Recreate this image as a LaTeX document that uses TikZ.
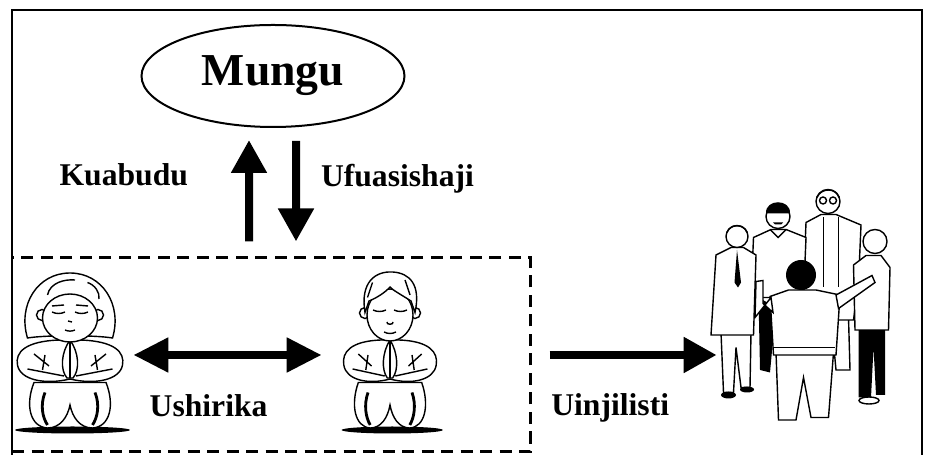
\documentclass[tikz,border=0pt]{standalone}
\usepackage{fontspec}
\setmainfont{Liberation Serif}
\usetikzlibrary{arrows.meta,shapes.geometric}

\tikzset{
  lebo/.style={font=\bfseries\fontsize{18}{21}\selectfont, inner sep=0pt},
  mshale/.style={line width=0.16cm, -{Triangle[length=0.66cm, width=0.68cm]}},
  mshalewili/.style={line width=0.16cm, {Triangle[length=0.7cm, width=0.66cm]}-{Triangle[length=0.7cm, width=0.66cm]}},
  mpaka/.style={draw, line width=0.06cm, dash pattern=on 0.24cm off 0.15cm},
  mtu/.style={draw, fill=white, line width=0.8pt},
  mwili/.pic={
    % kivuli
    \fill (0.05,-1.5) ellipse [x radius=1.15, y radius=0.07];
    % magoti
    \draw[mtu] (-0.72,-0.55) .. controls (-0.9,-1.0) and (-0.8,-1.44) .. (-0.45,-1.46) .. controls (-0.2,-1.46) and (-0.05,-1.25) .. (0,-1.0) .. controls (0.05,-1.25) and (0.2,-1.46) .. (0.45,-1.46) .. controls (0.8,-1.44) and (0.9,-1.0) .. (0.72,-0.55) -- cycle;
    \draw[line width=1.6pt] (-0.5,-0.75) .. controls (-0.6,-1.0) and (-0.55,-1.25) .. (-0.45,-1.4);
    \draw[line width=1.6pt] (0.5,-0.75) .. controls (0.6,-1.0) and (0.55,-1.25) .. (0.45,-1.4);
    % mikono
    \draw[mtu] (-0.2,0.3) .. controls (-0.9,0.28) and (-1.1,0.05) .. (-1.05,-0.2) .. controls (-1.0,-0.5) and (-0.5,-0.6) .. (0,-0.48) .. controls (0.5,-0.6) and (1.0,-0.5) .. (1.05,-0.2) .. controls (1.1,0.05) and (0.9,0.28) .. (0.2,0.3) -- cycle;
    \draw[line width=0.8pt] (-0.85,-0.28) -- (-0.12,-0.42) (0.85,-0.28) -- (0.12,-0.42);
    \draw[line width=0.8pt] (-0.72,0.02) -- (-0.42,-0.22) (-0.5,0.0) -- (-0.55,-0.3);
    \draw[line width=0.8pt] (0.72,0.02) -- (0.42,-0.22) (0.5,0.0) -- (0.55,-0.3);
    % viganja
    \draw[mtu] (0,0.3) .. controls (-0.18,0.05) and (-0.2,-0.3) .. (-0.06,-0.46) -- (0.06,-0.46) .. controls (0.2,-0.3) and (0.18,0.05) .. (0,0.3) -- cycle;
    \draw[line width=0.8pt] (0,0.28) -- (0,-0.46);
  },
  mke/.pic={
    % nywele
    \draw[mtu] (-0.85,0.34) .. controls (-1.05,1.0) and (-0.65,1.64) .. (0,1.64) .. controls (0.65,1.64) and (1.05,1.0) .. (0.85,0.34) .. controls (0.5,0.4) and (-0.5,0.4) .. cycle;
    \draw[line width=0.8pt] (-0.45,1.2) .. controls (-0.4,1.45) and (-0.1,1.52) .. (0.1,1.5);
    \draw[line width=0.8pt] (0.35,1.45) .. controls (0.5,1.4) and (0.6,1.25) .. (0.58,1.12);
    % masikio na uso
    \draw[mtu] (-0.56,0.8) circle (0.11);
    \draw[mtu] (0.56,0.8) circle (0.11);
    \draw[mtu] (0,0.74) ellipse [x radius=0.55, y radius=0.48];
    \draw[line width=0.8pt] (-0.36,0.86) .. controls (-0.28,0.82) and (-0.18,0.82) .. (-0.1,0.86);
    \draw[line width=0.8pt] (0.1,0.86) .. controls (0.18,0.82) and (0.28,0.82) .. (0.36,0.86);
    \draw[line width=0.8pt] (-0.36,0.98) -- (-0.12,1.0) (0.12,1.0) -- (0.36,0.98);
    \draw[line width=0.8pt] (-0.04,0.68) -- (0.04,0.66);
    \draw[line width=0.8pt] (-0.1,0.5) .. controls (-0.03,0.47) and (0.03,0.47) .. (0.1,0.5);
  },
  mume/.pic={
    % masikio na uso
    \draw[mtu] (-0.5,0.84) circle (0.11);
    \draw[mtu] (0.5,0.84) circle (0.11);
    \draw[mtu] (0,0.8) ellipse [x radius=0.46, y radius=0.52];
    % nywele
    \draw[mtu] (-0.5,0.85) .. controls (-0.6,1.45) and (-0.3,1.68) .. (0.05,1.66) .. controls (0.4,1.64) and (0.62,1.4) .. (0.5,0.85) -- (0.42,1.08) .. controls (0.2,1.22) and (0.05,1.3) .. (0,1.36) .. controls (-0.1,1.25) and (-0.25,1.15) .. (-0.42,1.08) -- cycle;
    \draw[line width=0.8pt] (-0.45,1.15) -- (-0.35,1.45) (0.4,1.2) -- (0.3,1.5);
    \draw[line width=0.8pt] (-0.34,0.9) .. controls (-0.26,0.86) and (-0.16,0.86) .. (-0.08,0.9);
    \draw[line width=0.8pt] (0.08,0.9) .. controls (0.16,0.86) and (0.26,0.86) .. (0.34,0.9);
    \draw[line width=0.8pt] (-0.06,0.66) .. controls (-0.08,0.6) and (0.08,0.6) .. (0.06,0.66);
    \draw[line width=0.8pt] (-0.12,0.46) .. controls (-0.04,0.42) and (0.04,0.42) .. (0.12,0.46);
  }
}

\begin{document}
\begin{tikzpicture}
    \useasboundingbox (0,0) rectangle (18.54,9.1);
    \draw[line width=0.05cm] (0.24,-0.2) -- (0.24,8.9) -- (18.44,8.9) -- (18.44,-0.2);

    \node[ellipse, draw, line width=0.04cm, minimum width=5.26cm, minimum height=2.04cm, inner sep=0pt, font=\bfseries\fontsize{26}{30}\selectfont] (mungu) at (5.46,7.58) {Mungu};
    \node[mpaka, minimum width=10.36cm, minimum height=3.88cm, inner sep=0pt] (waumini) at (5.42,2.0) {};
    \node[minimum width=2.32cm, minimum height=3.68cm, inner sep=0pt] (mwanamke) at (1.4,2.0) {};
    \node[minimum width=2.72cm, minimum height=3.3cm, inner sep=0pt] (mwanamume) at (7.8,2.0) {};
    \node[minimum width=3.36cm, minimum height=4.98cm, inner sep=0pt] (kundi) at (16.02,3.15) {};

    % waumini wawili
    \pic at (mwanamke.center) {mwili};
    \pic at (mwanamke.center) {mke};
    \pic[xscale=0.88] at (mwanamume.center) {mwili};
    \pic at (mwanamume.center) {mume};

    % kundi la watu
    \begin{scope}[shift={(kundi.center)}]
        \draw[mtu] (0.3,-0.4) -- (0.28,-1.5) -- (0.6,-1.5) -- (0.62,-0.6) -- (0.7,-1.45) -- (0.98,-1.45) -- (0.95,-0.4) -- cycle;
        \draw[mtu] (0.4,1.66) -- (0.1,1.5) -- (0.05,0.3) -- (0.1,-0.45) -- (1.05,-0.45) -- (1.15,0.3) -- (1.2,1.45) -- (0.7,1.66) -- cycle;
        \draw[line width=0.8pt] (0.45,1.6) -- (0.45,0.2) (0.75,1.6) -- (0.75,0.2);
        \draw[mtu] (0.54,1.92) circle (0.24);
        \draw[line width=0.8pt] (0.32,2.0) .. controls (0.4,2.2) and (0.7,2.2) .. (0.76,2.0);
        \draw[line width=0.8pt] (0.44,1.94) circle (0.07) (0.64,1.94) circle (0.07);
        \fill (-0.85,0.0) -- (-0.82,-1.45) -- (-0.62,-1.5) -- (-0.5,-0.2) -- cycle;
        \draw[mtu] (-0.6,1.36) -- (-0.95,1.2) -- (-1.0,0.0) -- (0.05,0.0) -- (0.1,1.2) -- (-0.3,1.36) -- cycle;
        \draw[line width=0.8pt] (-0.62,1.36) -- (-0.46,1.2) -- (-0.3,1.36);
        \draw[mtu] (-0.46,1.62) circle (0.24);
        \fill (-0.7,1.68) .. controls (-0.72,1.98) and (-0.2,1.98) .. (-0.22,1.68) -- cycle;
        \fill (-0.56,1.5) -- (-0.36,1.5) -- (-0.4,1.46) -- (-0.52,1.46) -- cycle;
        \draw[mtu] (-1.6,-0.7) -- (-1.55,-1.9) -- (-1.35,-1.9) -- (-1.3,-1.0) -- (-1.2,-1.8) -- (-1.02,-1.8) -- (-1.0,-0.7) -- cycle;
        \fill (-1.45,-1.95) ellipse [x radius=0.15, y radius=0.07];
        \fill (-1.08,-1.84) ellipse [x radius=0.14, y radius=0.06];
        \draw[mtu] (-1.4,1.0) -- (-1.7,0.85) -- (-1.8,-0.75) -- (-0.95,-0.75) -- (-0.9,0.85) -- (-1.15,1.0) -- cycle;
        \fill (-1.28,0.95) -- (-1.33,0.3) -- (-1.26,0.2) -- (-1.2,0.3) -- cycle;
        \draw[mtu] (-1.28,1.22) circle (0.22);
        \draw[line width=0.8pt] (-1.48,1.3) .. controls (-1.42,1.48) and (-1.14,1.48) .. (-1.08,1.3);
        \fill (1.15,-0.6) -- (1.15,-2.0) -- (1.4,-2.0) -- (1.45,-1.0) -- (1.5,-1.95) -- (1.68,-1.95) -- (1.68,-0.6) -- cycle;
        \draw[mtu] (1.36,-2.06) ellipse [x radius=0.2, y radius=0.07];
        \draw[mtu] (1.3,0.84) -- (1.05,0.65) -- (1.08,-0.65) -- (1.75,-0.65) -- (1.78,0.6) -- (1.6,0.84) -- cycle;
        \draw[mtu] (1.48,1.12) circle (0.24);
        \draw[mtu] (-0.5,-1.1) -- (-0.45,-2.45) -- (-0.1,-2.45) -- (0.05,-1.6) -- (0.2,-2.4) -- (0.55,-2.4) -- (0.65,-1.1) -- cycle;
        \draw[mtu] (-0.25,0.15) -- (-0.62,0.02) -- (-0.55,-1.15) -- (0.7,-1.15) -- (0.78,0.05) -- (0.3,0.15) -- cycle;
        \draw[line width=0.8pt] (-0.55,-1.0) -- (0.68,-1.0);
        \draw[mtu] (-0.6,0.0) -- (-0.92,-0.4) -- (-0.9,0.32) -- (-0.76,0.34) -- (-0.76,-0.12) -- (-0.56,-0.3) -- cycle;
        \draw[mtu] (0.7,0.05) -- (1.42,0.44) -- (1.48,0.3) -- (0.75,-0.22) -- cycle;
        \fill (0,0.45) circle (0.3);
    \end{scope}

    \draw[mshale, shorten <=0.3cm, shorten >=0.24cm] ([xshift=-0.44cm]waumini.north) -- ([xshift=-0.48cm]mungu.south) node[lebo, pos=0.634, left=1.14cm] {Kuabudu};
    \draw[mshale, shorten <=0.26cm, shorten >=0.3cm] ([xshift=0.46cm]mungu.south) -- ([xshift=0.5cm]waumini.north) node[lebo, pos=0.396, right=0.42cm] {Ufuasishaji};
    \draw[mshalewili, shorten <=0.1cm] (mwanamke.east) -- (mwanamume.west) node[lebo, pos=0.415, below=0.72cm] {Ushirika};
    \draw[mshale, shorten <=0.36cm] (waumini.east) -- (waumini.east -| kundi.west) node[lebo, pos=0.425, below=0.7cm] {Uinjilisti};
\end{tikzpicture}
\end{document}
